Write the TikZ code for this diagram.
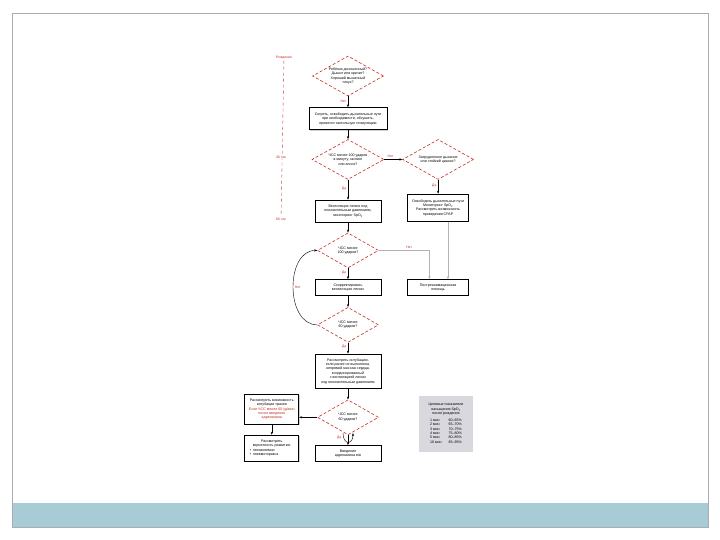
\documentclass[tikz,border=0pt]{standalone}
\usepackage{fontspec}
\setmainfont{Liberation Sans}
\usepackage{tikz}
\usetikzlibrary{arrows.meta,positioning,shapes.geometric,calc,shadows}
\definecolor{AlgRed}{RGB}{196,45,35}
\definecolor{FrameGray}{RGB}{170,172,178}
\definecolor{BarBlue}{RGB}{167,204,214}
\definecolor{TableGray}{RGB}{216,216,222}
\newcommand{\algfont}{\fontsize{3.6}{4.4}\selectfont}
\newcommand{\tagfont}{\fontsize{3.4}{4}\selectfont}
\tikzset{
  decision/.style={diamond,draw=AlgRed,densely dashed,line width=0.6pt,fill=white,aspect=1.8,inner sep=0pt,minimum width=71pt,minimum height=38pt,align=center,font=\algfont},
  action/.style={draw=black,line width=0.85pt,fill=white,drop shadow={shadow xshift=0.8pt,shadow yshift=-0.8pt,opacity=0.35},minimum width=66pt,minimum height=22pt,inner sep=1pt,align=center,font=\algfont},
  answer/.style={text=AlgRed,font=\tagfont,inner sep=1.5pt},
  timetag/.style={text=AlgRed,font=\tagfont,fill=white,inner sep=1pt},
  flow/.style={-{Stealth[length=3pt,width=2.2pt]},line width=0.4pt},
  flowgray/.style={flow,draw=black!30}
}
\begin{document}
\begin{tikzpicture}[x=1pt,y=-1pt]
\useasboundingbox (0,0) rectangle (720,540);
\fill[white] (0,0) rectangle (720,540);
\fill[BarBlue] (12,503) rectangle (708,527);
\draw[FrameGray,line width=0.6pt] (12,13) rectangle (708,527);

\node[timetag] (tbirth) at (284,58) {Рождение};
\node[timetag] (t60) at (281,219) {60 сек};
\draw[AlgRed,dashed,line width=0.4pt] (tbirth) -- (t60);
\node[timetag] (t30) at (281,157) {30 сек};

\node[decision,minimum height=40pt] (d1) at (348,76) {Ребёнок доношенный?\\Дышит или кричит?\\Хороший мышечный\\тонус?};
\node[action,below=11pt of d1,minimum width=78pt] (b1) {Согреть, освободить дыхательные пути\\при необходимости, обсушить,\\провести тактильную стимуляцию};
\node[decision,below=9pt of b1,minimum width=72pt,minimum height=40pt] (d2) {ЧСС менее 100 ударов\\в минуту, гаспинг\\или апноэ?};
\node[decision,right=18pt of d2,minimum height=40pt] (d2r) {Затрудненное дыхание\\или стойкий цианоз?};
\node[action,below=14pt of d2r,minimum width=61pt,minimum height=27pt] (b2r) {Освободить дыхательные пути\\Мониторинг SpO\textsubscript{2}\\Рассмотреть возможность\\проведения CPAP};
\node[action,below=20pt of d2] (b2) {Вентиляция легких под\\положительным давлением,\\мониторинг SpO\textsubscript{2}};
\node[decision,below=10pt of b2,minimum width=61pt,minimum height=35pt] (d3) {ЧСС менее\\100 ударов?};
\node[action,below=11pt of d3,minimum height=16pt] (b3) {Скорректировать\\вентиляцию легких};
\node[action,minimum width=61pt,minimum height=16pt] (b3r) at (b2r |- b3) {Постреанимационная\\помощь};
\node[decision,below=11pt of b3,minimum width=61pt,minimum height=35pt] (d4) {ЧСС менее\\60 ударов?};
\node[action,below=11pt of d4,minimum height=34pt] (b4) {Рассмотреть интубацию,\\если ранее не выполнена,\\непрямой массаж сердца,\\координированный\\с вентиляцией легких\\под положительным давлением};
\node[decision,below=11pt of b4,minimum width=61pt,minimum height=35pt] (d5) {ЧСС менее\\60 ударов?};
\node[action,below=10pt of d5,minimum height=16pt] (b5) {Введение\\адреналина в/в};
\node[action,left=18pt of d5,yshift=8pt,minimum width=54pt,minimum height=30pt] (b5l) {Рассмотреть возможность\\интубации трахеи\\\textcolor{AlgRed}{Если ЧСС менее 60 уд/мин}\\\textcolor{AlgRed}{после введения}\\\textcolor{AlgRed}{адреналина}};
\node[action,below=10pt of b5l,minimum width=54pt,minimum height=26pt] (b6l) {Рассмотреть\\вероятность развития:\\\makebox[44pt][l]{•\ \ гиповолемии}\\\makebox[44pt][l]{•\ \ пневмоторакса}};

\node[fill=TableGray,minimum width=54pt,minimum height=56pt,inner sep=2pt,align=center,font=\algfont] (target) at (446,424) {Целевые показатели\\насыщения SpO\textsubscript{2}\\после рождения\\[2pt]
\begin{tabular}{@{}l@{\hspace{7pt}}l@{}}
1 мин & 60--65\%\\
2 мин & 65--70\%\\
3 мин & 70--75\%\\
4 мин & 75--80\%\\
5 мин & 80--85\%\\
10 мин & 85--95\%
\end{tabular}};

\draw[flow] (d1) -- node[answer,left,pos=0.45] {Нет} (b1);
\draw[flow] (b1) -- (d2);
\draw[flow] (d2) -- node[answer,above,pos=0.35] {Нет} (d2r);
\draw[flow] (d2r) -- node[answer,left,pos=0.4] {Да} (b2r);
\draw[flow] (d2) -- node[answer,left,pos=0.45] {Да} (b2);
\draw[flow] (b2) -- (d3);
\draw[flow] (d3) -- node[answer,left,pos=0.4] {Да} (b3);
\draw[flowgray] (d3.east) -| node[answer,above,pos=0.3] {Нет} ($(b3r.north west)!0.36!(b3r.north east)$);
\draw[flowgray] ($(b2r.south west)!0.66!(b2r.south east)$) -- ($(b3r.north west)!0.66!(b3r.north east)$);
\draw[flow] (b3) -- (d4);
\draw[flow] (d4.west) to[out=180,in=180,looseness=1.1] node[answer,right] {Нет} (d3.west);
\draw[flow] (d4) -- node[answer,left,pos=0.4] {Да} (b4);
\draw[flow] (b4) -- (d5);
\draw[flow] (d5) -- node[answer,left,pos=0.3,xshift=-5pt] {Да} (b5);
\draw[flow] ($(d5.south)+(-5pt,2pt)$) .. controls +(0,-12pt) and +(0,-12pt) .. ($(d5.south)+(5pt,2pt)$);
\draw[flow] (d5.west) -- (d5.west -| b5l.east);
\draw[flow] (b5l) -- (b6l);
\end{tikzpicture}
\end{document}
